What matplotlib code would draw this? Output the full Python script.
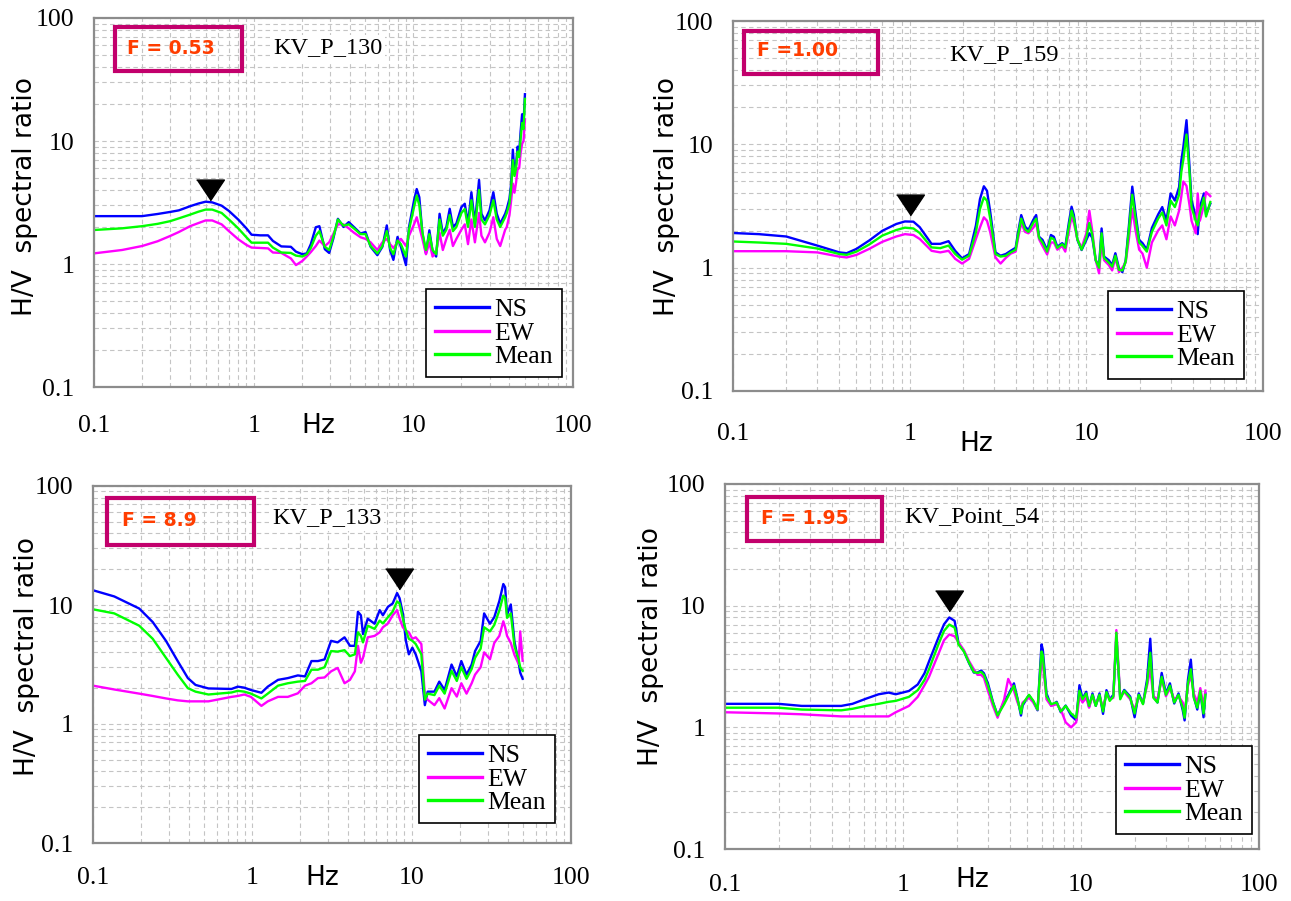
import numpy as np
import matplotlib
matplotlib.use('Agg')
import matplotlib.pyplot as plt
from matplotlib.patches import Rectangle
from matplotlib.ticker import LogLocator, NullFormatter

#panel 1: KV_P_130
f1 = [0.1, 0.15, 0.2, 0.25, 0.3, 0.34, 0.4, 0.45, 0.5, 0.55, 0.63, 0.7, 0.8, 0.9, 0.97, 1.1, 1.23, 1.32, 1.49, 1.71,
      1.84, 2.02, 2.15, 2.28, 2.45, 2.58, 2.79, 2.97, 3.15, 3.37, 3.65, 3.94, 4.24, 4.67, 5.02, 5.4, 5.95, 6.4, 6.82, 7.15,
      7.5, 7.96, 8.36, 8.99, 9.4, 10.1, 10.5, 10.9, 11.4, 12.0, 12.6, 13.2, 13.9, 14.6, 15.3, 16.1, 16.9, 17.7, 18.6, 20.0,
      21.0, 22.0, 23.1, 24.3, 25.8, 26.7, 28.1, 30.0, 31.7, 33.3, 35.0, 37.6, 38.5, 40, 41, 42, 43, 44, 45, 46,
      47, 48, 49, 50]
ns1 = [2.45, 2.45, 2.45, 2.55, 2.65, 2.73, 2.95, 3.1, 3.21, 3.17, 2.98, 2.7, 2.3, 1.95, 1.73, 1.71, 1.71, 1.54, 1.39, 1.38,
       1.26, 1.2, 1.22, 1.45, 1.99, 2.03, 1.32, 1.23, 1.6, 2.33, 2.0, 2.19, 2.0, 1.77, 1.82, 1.38, 1.18, 1.38, 2.06, 1.3,
       1.08, 1.66, 1.38, 0.98, 2.0, 3.28, 4.07, 3.49, 1.77, 1.22, 1.88, 1.26, 1.15, 2.56, 1.77, 2.0, 2.81, 2.0, 2.13, 2.9,
       3.09, 2.13, 3.83, 2.13, 4.82, 2.56, 2.26, 2.73, 3.83, 2.56, 2.13, 2.56, 2.8, 3.4, 4.5, 8.5, 5.5, 6.5, 9.0, 8.0,
       12.0, 16.5, 14.0, 24.0]
ew1 = [1.22, 1.3, 1.4, 1.53, 1.69, 1.82, 2.03, 2.15, 2.26, 2.26, 2.1, 1.85, 1.59, 1.43, 1.36, 1.35, 1.34, 1.24, 1.23, 1.11,
       0.98, 1.06, 1.15, 1.25, 1.4, 1.55, 1.4, 1.5, 1.75, 2.1, 2.1, 1.95, 1.8, 1.65, 1.6, 1.5, 1.3, 1.5, 1.6, 1.45,
       1.35, 1.5, 1.6, 1.4, 1.7, 2.1, 2.4, 2.0, 1.6, 1.2, 1.5, 1.15, 1.25, 1.8, 1.3, 1.6, 1.9, 1.4, 1.6, 1.9,
       2.1, 1.45, 2.3, 1.5, 2.6, 1.7, 1.5, 1.8, 2.4, 1.6, 1.4, 1.9, 2.0, 2.5, 3.3, 4.5, 3.8, 4.6, 6.0, 6.0,
       8.0, 9.5, 10.0, 15.0]
mean1 = [1.89, 1.95, 2.03, 2.12, 2.23, 2.35, 2.52, 2.66, 2.77, 2.77, 2.6, 2.3, 1.95, 1.65, 1.49, 1.49, 1.49, 1.36, 1.24, 1.23,
         1.17, 1.15, 1.2, 1.35, 1.7, 1.85, 1.38, 1.3, 1.65, 2.3, 2.05, 2.1, 1.95, 1.75, 1.75, 1.4, 1.22, 1.4, 1.85, 1.35,
         1.2, 1.55, 1.45, 1.15, 1.9, 2.9, 3.6, 3.0, 1.8, 1.3, 1.75, 1.3, 1.2, 2.3, 1.7, 1.9, 2.5, 1.85, 2.0, 2.6,
         2.8, 2.0, 3.3, 2.0, 4.0, 2.3, 2.1, 2.5, 3.3, 2.3, 2.0, 2.4, 2.6, 3.1, 4.2, 7.0, 5.2, 6.0, 8.2, 7.4,
         10.5, 14.0, 12.5, 22.0]

#panel 2: KV_P_159
f2 = [0.1, 0.14, 0.2, 0.3, 0.4, 0.44, 0.5, 0.59, 0.7, 0.84, 0.94, 1.05, 1.14, 1.33, 1.49, 1.66, 1.81, 1.98, 2.17, 2.37,
      2.5, 2.63, 2.74, 2.86, 3.06, 3.27, 3.5, 3.73, 3.98, 4.1, 4.28, 4.5, 4.7, 5.0, 5.2, 5.4, 5.65, 6.0, 6.3, 6.55,
      6.85, 7.3, 7.6, 7.98, 8.25, 8.5, 8.9, 9.4, 10.0, 10.4, 10.8, 11.3, 11.8, 12.2, 12.6, 13.4, 14.0, 14.6, 15.3, 16.0,
      16.7, 17.4, 18.2, 19.0, 19.9, 20.8, 22.0, 23.5, 25.5, 26.9, 28.4, 30.0, 31.7, 33.5, 34.5, 35.4, 36.9, 38.4, 39.4, 41.6,
      42.7, 43.9, 46.3, 47.6, 50.3]
ns2 = [1.91, 1.87, 1.79, 1.51, 1.33, 1.31, 1.42, 1.66, 1.99, 2.26, 2.37, 2.36, 2.13, 1.56, 1.56, 1.64, 1.37, 1.19, 1.29, 2.19,
       3.6, 4.57, 4.2, 2.81, 1.33, 1.25, 1.29, 1.37, 1.45, 1.9, 2.67, 2.15, 2.02, 2.43, 2.67, 1.78, 1.68, 1.39, 1.84, 1.78,
       1.48, 1.58, 1.48, 2.36, 3.12, 2.67, 1.68, 1.39, 1.68, 1.9, 1.75, 1.15, 1.02, 2.08, 1.23, 1.15, 1.05, 1.31, 0.99, 0.92,
       1.15, 2.15, 4.54, 2.76, 1.68, 1.58, 1.4, 2.1, 2.7, 3.1, 2.4, 4.0, 3.5, 4.5, 7.4, 9.5, 15.7, 6.5, 3.5, 2.6,
       1.87, 3.1, 4.0, 2.7, 3.3]
ew2 = [1.36, 1.36, 1.36, 1.33, 1.23, 1.21, 1.27, 1.42, 1.62, 1.79, 1.87, 1.84, 1.71, 1.37, 1.33, 1.37, 1.18, 1.08, 1.18, 1.71,
       2.12, 2.56, 2.4, 1.93, 1.21, 1.08, 1.2, 1.3, 1.35, 1.7, 2.3, 1.95, 1.9, 2.1, 2.3, 1.7, 1.5, 1.28, 1.6, 1.6,
       1.4, 1.5, 1.35, 2.0, 2.6, 2.3, 1.7, 1.45, 1.9, 2.9, 2.0, 1.15, 0.9, 1.6, 1.15, 1.05, 0.95, 1.2, 0.92, 1.0,
       1.1, 1.7, 3.0, 2.0, 1.4, 1.3, 1.0, 1.6, 2.0, 2.2, 1.7, 2.6, 2.2, 2.9, 3.8, 5.0, 4.6, 3.2, 2.4, 1.9,
       4.0, 2.4, 3.2, 4.1, 3.8]
mean2 = [1.63, 1.6, 1.56, 1.43, 1.29, 1.27, 1.35, 1.54, 1.82, 2.02, 2.11, 2.08, 1.91, 1.46, 1.44, 1.51, 1.29, 1.16, 1.25, 1.93,
         2.99, 3.72, 3.49, 2.48, 1.29, 1.23, 1.25, 1.33, 1.4, 1.8, 2.5, 2.05, 1.95, 2.3, 2.5, 1.75, 1.6, 1.35, 1.75, 1.7,
         1.45, 1.55, 1.45, 2.2, 2.9, 2.5, 1.7, 1.4, 1.75, 2.3, 1.85, 1.15, 1.0, 1.9, 1.2, 1.1, 1.02, 1.25, 0.96, 0.95,
         1.12, 2.0, 3.9, 2.5, 1.6, 1.5, 1.35, 1.95, 2.5, 2.8, 2.2, 3.5, 3.1, 3.9, 6.0, 7.5, 12.0, 5.8, 3.1, 2.4,
         2.2, 2.8, 3.7, 2.6, 3.4]

#panel 3: KV_P_133
f3 = [0.1, 0.136, 0.195, 0.237, 0.287, 0.34, 0.394, 0.44, 0.53, 0.74, 0.81, 0.89, 0.98, 1.14, 1.25, 1.45, 1.67, 1.93, 2.14, 2.35,
      2.58, 2.84, 3.12, 3.43, 3.79, 4.1, 4.4, 4.6, 4.8, 4.95, 5.3, 5.85, 6.3, 6.6, 7.1, 7.6, 8.1, 8.4, 8.8, 9.2,
      9.6, 10.1, 10.6, 11.5, 12.1, 12.6, 13.9, 14.9, 16.1, 17.8, 19.2, 20.5, 22.1, 23.8, 25.0, 27.1, 28.5, 31.0, 33.0, 35.5,
      37.6, 38.6, 39.7, 41.9, 44.2, 46.9, 48.0, 49.7]
ns3 = [13.3, 11.8, 9.34, 7.19, 5.0, 3.38, 2.43, 2.13, 1.99, 1.97, 2.06, 2.02, 1.93, 1.83, 2.06, 2.35, 2.43, 2.56, 2.51, 3.38,
       3.38, 3.49, 5.0, 4.85, 5.35, 4.54, 4.54, 8.77, 8.2, 5.7, 7.67, 6.96, 9.05, 8.2, 9.66, 10.3, 12.6, 11.4, 8.5, 5.0,
       3.85, 4.38, 3.85, 2.77, 1.44, 1.87, 1.87, 2.27, 1.93, 3.16, 2.51, 3.38, 2.6, 3.16, 4.1, 5.0, 8.5, 6.96, 7.9, 10.8,
       15.0, 14.1, 8.3, 10.1, 4.9, 3.3, 2.7, 2.4]
ew3 = [2.1, 1.95, 1.8, 1.72, 1.64, 1.58, 1.55, 1.55, 1.55, 1.69, 1.72, 1.77, 1.69, 1.42, 1.55, 1.69, 1.69, 1.81, 2.1, 2.2,
       2.43, 2.46, 2.77, 2.96, 2.2, 2.35, 2.77, 4.54, 3.27, 3.6, 5.35, 5.5, 5.9, 6.5, 7.0, 8.2, 9.05, 7.7, 6.5, 6.1,
       5.9, 5.2, 5.35, 4.7, 1.75, 1.6, 1.44, 1.65, 1.35, 2.0, 1.7, 2.2, 1.8, 2.2, 2.6, 3.0, 4.0, 3.5, 4.8, 5.5,
       7.3, 6.5, 5.5, 4.8, 3.8, 3.2, 6.0, 3.4]
mean3 = [9.2, 8.5, 6.7, 5.2, 3.6, 2.6, 2.0, 1.87, 1.77, 1.84, 1.9, 1.87, 1.8, 1.64, 1.8, 2.1, 2.2, 2.27, 2.3, 2.86,
         2.86, 3.0, 4.1, 4.06, 4.17, 3.72, 3.85, 5.9, 5.5, 4.85, 6.7, 6.3, 7.4, 7.0, 7.9, 8.8, 10.7, 10.3, 7.7, 6.1,
         5.2, 5.0, 4.7, 3.85, 1.6, 1.8, 1.75, 2.1, 1.8, 2.8, 2.3, 3.0, 2.4, 2.9, 3.6, 4.3, 6.5, 6.0, 6.8, 9.0,
         12.0, 11.5, 7.8, 8.5, 4.5, 3.5, 3.0, 2.8]

#panel 4: KV_Point_54
f4 = [0.1, 0.2, 0.27, 0.45, 0.52, 0.62, 0.73, 0.83, 0.91, 1.08, 1.21, 1.32, 1.40, 1.58, 1.70, 1.82, 1.95, 2.05, 2.2, 2.35,
      2.5, 2.62, 2.75, 2.85, 3.0, 3.2, 3.4, 3.7, 3.9, 4.2, 4.4, 4.6, 4.7, 5.1, 5.4, 5.7, 6.0, 6.1, 6.4, 6.8,
      7.3, 7.7, 8.2, 8.8, 9.4, 9.8, 10.2, 10.7, 11.1, 11.6, 12.1, 12.7, 13.3, 13.9, 14.5, 15.2, 15.8, 16.6, 17.5, 18.9,
      20.0, 21.1, 22.3, 23.5, 24.5, 25.5, 26.9, 28.4, 30.0, 31.6, 33.4, 35.3, 37.3, 38.2, 39.9, 41.4, 43.0, 45.0, 46.8, 48.8,
      50.0]
ns4 = [1.56, 1.56, 1.50, 1.50, 1.56, 1.72, 1.87, 1.93, 1.87, 1.99, 2.25, 2.78, 3.48, 5.45, 7.03, 8.0, 7.5, 4.94, 4.22, 3.37,
       2.82, 2.82, 2.93, 2.78, 2.3, 1.62, 1.25, 1.62, 1.84, 2.3, 1.72, 1.25, 1.51, 1.84, 1.62, 1.38, 4.8, 4.36, 1.9, 1.51,
       1.62, 1.33, 1.51, 1.25, 1.14, 2.22, 1.72, 1.96, 1.47, 1.9, 1.5, 1.9, 1.29, 2.02, 1.7, 1.85, 5.5, 1.75, 2.03, 1.79,
       1.21, 1.9, 1.57, 2.47, 5.35, 1.79, 1.6, 2.8, 1.9, 2.3, 1.57, 1.9, 1.38, 1.14, 2.47, 3.6, 1.8, 1.4, 2.0, 1.21,
       1.9]
ew4 = [1.33, 1.3, 1.28, 1.23, 1.23, 1.23, 1.23, 1.23, 1.33, 1.5, 1.78, 2.22, 2.6, 4.0, 5.2, 5.8, 5.6, 5.0, 4.3, 3.5,
       3.0, 2.7, 2.7, 2.55, 2.0, 1.5, 1.2, 1.7, 2.5, 2.0, 1.6, 1.4, 1.6, 1.75, 1.6, 1.4, 3.5, 3.4, 1.7, 1.5,
       1.55, 1.4, 1.1, 1.0, 1.1, 1.8, 1.6, 1.75, 1.45, 1.8, 1.55, 1.8, 1.45, 1.9, 1.7, 1.75, 6.3, 1.8, 1.95, 1.7,
       1.4, 1.8, 1.6, 2.2, 3.0, 1.8, 1.7, 2.5, 1.8, 2.1, 1.7, 1.8, 1.6, 1.3, 2.2, 2.7, 1.9, 1.6, 2.1, 1.5,
       2.0]
mean4 = [1.45, 1.45, 1.4, 1.38, 1.42, 1.5, 1.56, 1.62, 1.65, 1.78, 2.02, 2.45, 3.0, 4.8, 6.2, 7.0, 6.6, 4.8, 4.2, 3.4,
         2.85, 2.8, 2.85, 2.7, 2.2, 1.6, 1.25, 1.55, 1.8, 2.2, 1.7, 1.3, 1.55, 1.85, 1.65, 1.4, 4.2, 3.9, 1.8, 1.55,
         1.6, 1.35, 1.5, 1.3, 1.2, 2.0, 1.7, 1.9, 1.5, 1.85, 1.5, 1.85, 1.35, 1.95, 1.65, 1.8, 6.0, 1.7, 2.0, 1.75,
         1.3, 1.85, 1.55, 2.3, 4.1, 1.75, 1.6, 2.6, 1.85, 2.2, 1.6, 1.85, 1.45, 1.2, 2.3, 3.0, 1.75, 1.45, 2.0, 1.3,
         1.85]

#peak labels and triangle markers
f_labels = ['F = 0.53', 'F =1.00', 'F = 8.9', 'F = 1.95']
stations = ['KV_P_130', 'KV_P_159', 'KV_P_133', 'KV_Point_54']
peak_f = [0.53, 1.0, 8.3, 1.82]
peak_v = [4.0, 3.24, 16.4, 11.0]
ticks = [0.1, 1, 10, 100]
tick_labels = ['0.1', '1', '10', '100']
series_names = ['NS', 'EW', 'Mean']
colors = ['#0000FF', '#FF00FF', '#00FF00']

freqs = [f1, f2, f3, f4]
data = [[ns1, ew1, mean1], [ns2, ew2, mean2], [ns3, ew3, mean3], [ns4, ew4, mean4]]

#layout, pixels from top-left of the 1291x901 image
W, H = 1291, 901
axes_px = [(94, 18, 573, 387), (733, 21, 1263, 391), (93, 486, 571, 843), (725, 484, 1259, 849)]
box_px = [(115, 27, 242, 71), (744, 31, 878, 74), (107, 498, 254, 545), (747, 497, 882, 541)]
ftext_px = [(127, 49), (757, 51), (122, 520), (761, 518)]
station_px = [(273, 48), (949, 55), (272, 518), (904, 517)]
legend_px = [(562, 377), (1244, 379), (555, 823), (1252, 834)]
hz_px = [(318, 426), (976, 444), (322, 878), (972, 880)]
ylab_px = [(25, 197), (667, 197), (27, 657), (651, 647)]
xpad = [20, 23, 17, 18]

def fx(x):
    return x / W

def fy(y):
    return 1 - y / H

tri = [(-1, 0.75), (1, 0.75), (0, -0.75)]

fig = plt.figure(figsize=(W / 100, H / 100), dpi=100)

for i in range(4):
    x0, y0, x1, y1 = axes_px[i]
    ax = fig.add_axes([fx(x0), fy(y1), (x1 - x0) / W, (y1 - y0) / H])
    ax.set_xscale('log')
    ax.set_yscale('log')

    for vals, name, c in zip(data[i], series_names, colors):
        ax.plot(freqs[i], vals, color=c, lw=1.7, label=name)

    ax.plot(peak_f[i], peak_v[i], marker=tri, ms=20, color='black', ls='none')

    ax.set_xlim(0.1, 100)
    ax.set_ylim(0.1, 100)
    ax.set_xticks(ticks)
    ax.set_xticklabels(tick_labels)
    ax.set_yticks(ticks)
    ax.set_yticklabels(tick_labels)
    ax.xaxis.set_minor_locator(LogLocator(base=10, subs=np.arange(2, 10)))
    ax.yaxis.set_minor_locator(LogLocator(base=10, subs=np.arange(2, 10)))
    ax.xaxis.set_minor_formatter(NullFormatter())
    ax.yaxis.set_minor_formatter(NullFormatter())
    ax.tick_params(which='both', length=0)
    ax.tick_params(axis='x', pad=xpad[i])
    ax.tick_params(axis='y', pad=14)
    for lab in ax.get_xticklabels() + ax.get_yticklabels():
        lab.set_family('Liberation Serif')
        lab.set_fontsize(18.5)
    ax.grid(True, which='both', ls=(0, (4, 3)), color='#C4C4C4', lw=0.8)
    ax.set_axisbelow(True)
    for sp in ax.spines.values():
        sp.set_color('#8C8C8C')
        sp.set_linewidth(1.6)

    #legend box in the lower right corner
    lx, ly = legend_px[i]
    leg = ax.legend(loc='lower right', bbox_to_anchor=(fx(lx), fy(ly)), bbox_transform=fig.transFigure,
                    borderaxespad=0, fancybox=False, framealpha=1, edgecolor='black',
                    prop={'family': 'Liberation Serif', 'size': 18.5}, handlelength=2.1,
                    handletextpad=0.2, labelspacing=0.02, borderpad=0.35)
    leg.get_frame().set_linewidth(1.2)
    for h in leg.get_lines():
        h.set_linewidth(2.4)

    #peak frequency box
    bx0, by0, bx1, by1 = box_px[i]
    fig.add_artist(Rectangle((fx(bx0), fy(by1)), (bx1 - bx0) / W, (by1 - by0) / H, transform=fig.transFigure,
                             fill=False, ec='#C2006C', lw=3))
    tx, ty = ftext_px[i]
    fig.text(fx(tx), fy(ty), f_labels[i], color='#FF3D00', fontweight='bold', fontsize=13.5,
             family='DejaVu Sans', ha='left', va='center')
    sx, sy = station_px[i]
    fig.text(fx(sx), fy(sy), stations[i], fontsize=17.5, family='Liberation Serif', ha='left', va='center',
             bbox=dict(facecolor='white', edgecolor='none', pad=2))

    hx, hy = hz_px[i]
    fig.text(fx(hx), fy(hy), 'Hz', fontsize=19, family='DejaVu Sans', ha='center', va='center')
    yx, yy = ylab_px[i]
    fig.text(fx(yx), fy(yy), 'H/V  spectral ratio', fontsize=19, family='DejaVu Sans', rotation=90,
             ha='center', va='center')

fig.savefig('out.png', dpi=100)
